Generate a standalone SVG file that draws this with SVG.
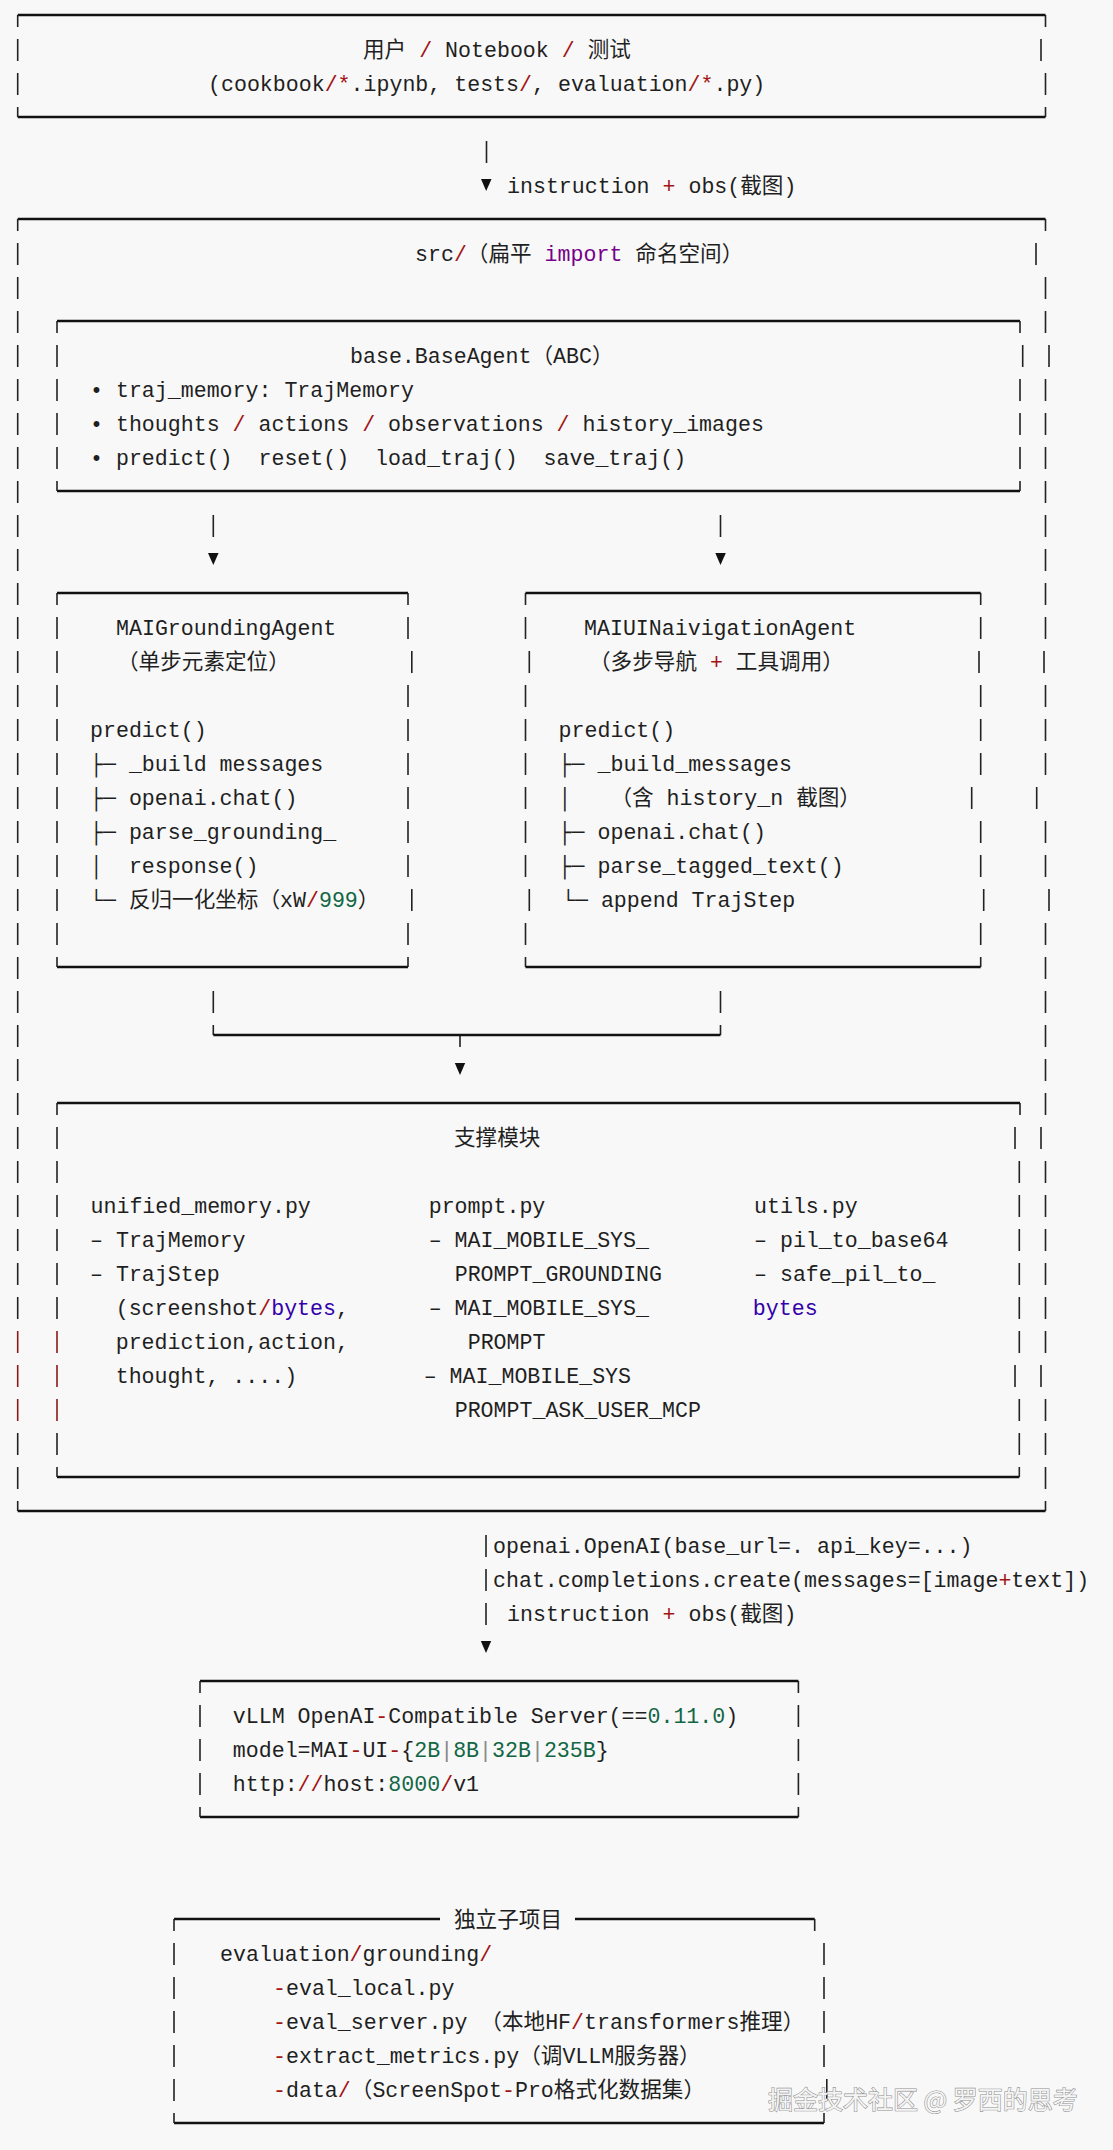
<svg xmlns="http://www.w3.org/2000/svg" width="1113" height="2150" viewBox="0 0 1113 2150">
<style>
.t{font-family:"Liberation Mono","DejaVu Sans Mono","Noto Sans CJK SC",monospace;font-size:21.6px;fill:#1f1f1f;white-space:pre}
.op{fill:#a31515}
.kw{fill:#770088}
.bi{fill:#3300aa}
.nm{fill:#116644}
.gr{fill:#888888}
.hb{fill:none;stroke:#111;stroke-width:2.6}
.vb{fill:none;stroke:#222;stroke-width:1.6;stroke-dasharray:22 12}
.vr{fill:none;stroke:#8b1a1a;stroke-width:1.6;stroke-dasharray:22 12}
.ah{fill:#111}
.wm{font-family:"Noto Sans CJK SC",sans-serif;font-size:25px;fill:#f4f4f4;stroke:#8f8f8f;stroke-width:1.1;paint-order:stroke}
</style>
<rect width="1113" height="2150" fill="#f8f8f8"/>

<g id="node-user">
<path class="hb" d="M17.7,15H1045.5M17.7,117H1045.5"/>
<path class="vb" d="M17.7,15V27M1045.5,15V27M17.7,39V61M1041,39V61M17.7,73V95M1045.5,73V95M17.7,107V117M1045.5,107V117"/>
<text class="t" x="363" y="56.5" xml:space="preserve">用户 <tspan class="op">/</tspan> Notebook <tspan class="op">/</tspan> 测试</text>
<text class="t" x="208" y="90.5" xml:space="preserve">(cookbook<tspan class="op">/*</tspan>.ipynb, tests<tspan class="op">/</tspan>, evaluation<tspan class="op">/*</tspan>.py)</text>
</g>

<g id="node-src">
<path class="hb" d="M17.7,219H1045.5M17.7,1511H1045.5"/>
<path class="vb" d="M17.7,219V231M1045.5,219V231M17.7,1501V1511M1045.5,1501V1511"/>
<path class="vb" d="M17.7,243V1319M17.7,1433V1489M1036,243V265M1045.5,277V333M1049,345V367M1045.5,379V639M1044,651V673M1045.5,685V775M1036.7,787V809M1045.5,821V877M1049,889V911M1045.5,923V1115M1041,1127V1149M1045.5,1161V1353M1041,1365V1387M1045.5,1399V1489"/>
<path class="vr" d="M17.7,1331V1421"/>
<text class="t" x="415" y="260.5" xml:space="preserve">src<tspan class="op">/</tspan>（扁平 <tspan class="kw">import</tspan> 命名空间）</text>
</g>

<g id="node-base-agent">
<path class="hb" d="M57,321H1020M57,491H1020"/>
<path class="vb" d="M57,321V333M1020,321V333M57,481V491M1020,481V491M57,345V469M1022.7,345V367M1020,379V469"/>
<text class="t" x="350" y="362.5" xml:space="preserve">base.BaseAgent（ABC）</text>
<text class="t" x="90" y="396.5" xml:space="preserve">• traj_memory: TrajMemory</text>
<text class="t" x="90" y="430.5" xml:space="preserve">• thoughts <tspan class="op">/</tspan> actions <tspan class="op">/</tspan> observations <tspan class="op">/</tspan> history_images</text>
<text class="t" x="90" y="464.5" xml:space="preserve">• predict()  reset()  load_traj()  save_traj()</text>
</g>

<g id="node-grounding-agent">
<path class="hb" d="M57,593H408M57,967H408"/>
<path class="vb" d="M57,593V605M408,593V605M57,957V967M408,957V967M57,617V945M408,617V639M411.8,651V673M408,685V877M411.8,889V911M408,923V945"/>
<text class="t" x="116" y="634.5" xml:space="preserve">MAIGroundingAgent</text>
<text class="t" x="117" y="668.5" xml:space="preserve">（单步元素定位）</text>
<text class="t" x="90" y="736.5" xml:space="preserve">predict()</text>
<text class="t" x="90" y="770.5" xml:space="preserve">├─ _build messages</text>
<text class="t" x="90" y="804.5" xml:space="preserve">├─ openai.chat()</text>
<text class="t" x="90" y="838.5" xml:space="preserve">├─ parse_grounding_</text>
<text class="t" x="90" y="872.5" xml:space="preserve">│  response()</text>
<text class="t" x="90" y="906.5" xml:space="preserve">└─ 反归一化坐标（xW<tspan class="op">/</tspan><tspan class="nm">999</tspan>）</text>
</g>

<g id="node-navigation-agent">
<path class="hb" d="M525.5,593H980.7M525.5,967H980.7"/>
<path class="vb" d="M525.5,593V605M980.7,593V605M525.5,957V967M980.7,957V967M525.5,617V639M529.3,651V673M525.5,685V877M529.3,889V911M525.5,923V945M980.7,617V639M979,651V673M980.7,685V775M971.7,787V809M980.7,821V877M983.7,889V911M980.7,923V945"/>
<text class="t" x="584" y="634.5" xml:space="preserve">MAIUINaivigationAgent</text>
<text class="t" x="589" y="668.5" xml:space="preserve">（多步导航 <tspan class="op">+</tspan> 工具调用）</text>
<text class="t" x="558.6" y="736.5" xml:space="preserve">predict()</text>
<text class="t" x="558.6" y="770.5" xml:space="preserve">├─ _build_messages</text>
<text class="t" x="558.6" y="804.5" xml:space="preserve">│   （含 history_n 截图）</text>
<text class="t" x="558.6" y="838.5" xml:space="preserve">├─ openai.chat()</text>
<text class="t" x="558.6" y="872.5" xml:space="preserve">├─ parse_tagged_text()</text>
<text class="t" x="562" y="906.5" xml:space="preserve">└─ append TrajStep</text>
</g>

<g id="node-support-modules">
<path class="hb" d="M57,1103H1020M57,1477H1019.3"/>
<path class="vb" d="M57,1103V1115M1020,1103V1115M57,1467V1477M1019.3,1467V1477M57,1127V1319M57,1433V1455M1015,1127V1149M1019.3,1161V1353M1015,1365V1387M1019.3,1399V1455"/>
<path class="vr" d="M57,1331V1421"/>
<text class="t" x="454" y="1144.5" xml:space="preserve">支撑模块</text>
<text class="t" x="90.5" y="1212.5" xml:space="preserve">unified_memory.py</text>
<text class="t" x="428.7" y="1212.5" xml:space="preserve">prompt.py</text>
<text class="t" x="754" y="1212.5" xml:space="preserve">utils.py</text>
<text class="t" x="90" y="1246.5" xml:space="preserve">– TrajMemory</text>
<text class="t" x="428.7" y="1246.5" xml:space="preserve">– MAI_MOBILE_SYS_</text>
<text class="t" x="754" y="1246.5" xml:space="preserve">– pil_to_base64</text>
<text class="t" x="90" y="1280.5" xml:space="preserve">– TrajStep</text>
<text class="t" x="454.7" y="1280.5" xml:space="preserve">PROMPT_GROUNDING</text>
<text class="t" x="754" y="1280.5" xml:space="preserve">– safe_pil_to_</text>
<text class="t" x="115.7" y="1314.5" xml:space="preserve">(screenshot<tspan class="op">/</tspan><tspan class="bi">bytes</tspan>,</text>
<text class="t" x="428.7" y="1314.5" xml:space="preserve">– MAI_MOBILE_SYS_</text>
<text class="t bi" x="752.8" y="1314.5" xml:space="preserve">bytes</text>
<text class="t" x="115.7" y="1348.5" xml:space="preserve">prediction,action,</text>
<text class="t" x="467.7" y="1348.5" xml:space="preserve">PROMPT</text>
<text class="t" x="115.7" y="1382.5" xml:space="preserve">thought, ....)</text>
<text class="t" x="423.7" y="1382.5" xml:space="preserve">– MAI_MOBILE_SYS</text>
<text class="t" x="454.7" y="1416.5" xml:space="preserve">PROMPT_ASK_USER_MCP</text>
</g>

<g id="node-vllm-server">
<path class="hb" d="M200,1681H798.4M200,1817H798.4"/>
<path class="vb" d="M200,1681V1693M798.4,1681V1693M200,1807V1817M798.4,1807V1817M200,1705V1795M798.4,1705V1795"/>
<text class="t" x="232.8" y="1722.5" xml:space="preserve">vLLM OpenAI<tspan class="op">-</tspan>Compatible Server(==<tspan class="nm">0.11.0</tspan>)</text>
<text class="t" x="232.8" y="1756.5" xml:space="preserve">model=MAI<tspan class="op">-</tspan>UI<tspan class="op">-</tspan>{<tspan class="nm">2B</tspan><tspan class="gr">|</tspan><tspan class="nm">8B</tspan><tspan class="gr">|</tspan><tspan class="nm">32B</tspan><tspan class="gr">|</tspan><tspan class="nm">235B</tspan>}</text>
<text class="t" x="232.8" y="1790.5" xml:space="preserve">http:<tspan class="op">//</tspan>host:<tspan class="nm">8000</tspan><tspan class="op">/</tspan>v1</text>
</g>

<g id="node-independent-subproject">
<path class="hb" d="M174,1919H440M575,1919H814.7M174,2123H824"/>
<path class="vb" d="M174,1919V1931M814.7,1919V1931M174,2113V2123M824,2113V2123M174,1943V2101M824,1943V2067M826.8,2079V2101"/>
<text class="t" x="454" y="1926.5" xml:space="preserve">独立子项目</text>
<text class="t" x="220" y="1960.5" xml:space="preserve">evaluation<tspan class="op">/</tspan>grounding<tspan class="op">/</tspan></text>
<text class="t" x="273" y="1994.5" xml:space="preserve"><tspan class="op">-</tspan>eval_local.py</text>
<text class="t" x="273" y="2028.5" xml:space="preserve"><tspan class="op">-</tspan>eval_server.py （本地HF<tspan class="op">/</tspan>transformers推理）</text>
<text class="t" x="273" y="2062.5" xml:space="preserve"><tspan class="op">-</tspan>extract_metrics.py（调VLLM服务器）</text>
<text class="t" x="273" y="2096.5" xml:space="preserve"><tspan class="op">-</tspan>data<tspan class="op">/</tspan>（ScreenSpot<tspan class="op">-</tspan>Pro格式化数据集）</text>
</g>

<g id="connectors">
<path class="vb" d="M486.5,141V163"/>
<polygon class="ah" points="481,179 491.5,179 486.2,191"/>
<text class="t" x="507" y="192.5" xml:space="preserve">instruction <tspan class="op">+</tspan> obs(截图)</text>
<path class="vb" d="M213.3,515V537M720.5,515V537"/>
<polygon class="ah" points="208,553 218.6,553 213.3,565"/>
<polygon class="ah" points="715.3,553 725.8,553 720.5,565"/>
<path class="vb" d="M213.3,991V1013M720.5,991V1013M213.3,1025V1035M720.5,1025V1035M460,1035V1047"/>
<path class="hb" d="M213.3,1035H720.5"/>
<polygon class="ah" points="454.8,1063 465.2,1063 460,1075"/>
<path class="vb" d="M486,1535V1557M486,1569V1591M486,1603V1625"/>
<text class="t" x="493" y="1552.5" xml:space="preserve">openai.OpenAI(base_url=. api_key=...)</text>
<text class="t" x="493" y="1586.5" xml:space="preserve">chat.completions.create(messages=[image<tspan class="op">+</tspan>text])</text>
<text class="t" x="507" y="1620.5" xml:space="preserve">instruction <tspan class="op">+</tspan> obs(截图)</text>
<polygon class="ah" points="480.8,1641 491.2,1641 486,1653"/>
</g>

<text class="wm" x="768" y="2109">掘金技术社区 @ 罗西的思考</text>
</svg>
